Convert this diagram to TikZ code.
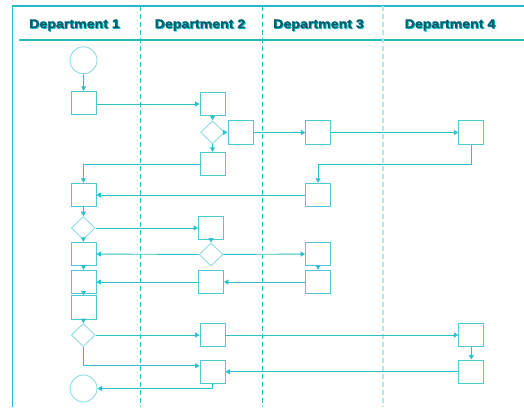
\documentclass[tikz,border=0pt]{standalone}
\usepackage{fontspec}
\usepackage{graphicx}
\setmainfont{Liberation Sans}
\newfontfamily\headfont[FakeBold=1.2]{Liberation Sans Bold}
\usetikzlibrary{arrows.meta,shapes.geometric}
\definecolor{frame}{HTML}{1FBCC8}
\definecolor{linec}{HTML}{2EC0CC}
\definecolor{boxc}{HTML}{4FCAD4}
\definecolor{lightc}{HTML}{8FDCE3}
\definecolor{dimc}{HTML}{B5E7EC}
\definecolor{headtxt}{HTML}{05606E}
\definecolor{headsh}{HTML}{10C0CE}
\tikzset{
  box/.style={draw=boxc, line width=0.9bp, minimum width=25bp, minimum height=23.5bp, inner sep=0pt},
  dec/.style={diamond, draw=lightc, line width=0.9bp, minimum width=24bp, minimum height=23bp, inner sep=0pt},
  term/.style={circle, draw=lightc, line width=0.9bp, minimum size=27bp, inner sep=0pt},
  flow/.style={draw=linec, line width=0.9bp, -{Triangle[length=4.5bp,width=5bp]}},
  lane/.style={draw=linec, line width=0.9bp, dash pattern=on 5bp off 3bp},
  lanelight/.style={draw=dimc, line width=1.6bp, dash pattern=on 5bp off 3bp},
  headsh/.style={text=headsh, font=\headfont\fontsize{12.6}{14}\selectfont},
  head/.style={text=headtxt, font=\headfont\fontsize{12.6}{14}\selectfont},
}
\newcommand{\depthead}[3]{%
  \node[headsh] (#1s) at ([xshift=0.9bp,yshift=-0.9bp]#2) {\scalebox{1.13}[1]{#3}};
  \node[head] (#1) at (#2) {\scalebox{1.13}[1]{#3}};}
\begin{document}
\begin{tikzpicture}[x=1bp,y=-1bp]
\useasboundingbox (0,0) rectangle (524,407);
\fill[white] (0,0) rectangle (524,407);

% frame and header rule
\draw[frame, line width=1.2bp] (12.5,407) -- (12.5,6) -- (524,6);
\draw[frame, line width=1.1bp] (19,40) -- (524,40);

% lane dividers
\draw[lane] (140,6) -- (140,407);
\draw[lane] (262,6) -- (262,407);
\draw[lanelight] (383,6) -- (383,407);

% lane headings
\coordinate (h1) at (74.5,25);
\coordinate (h2) at (200,25);
\coordinate (h3) at (318.5,25);
\coordinate (h4) at (450,25);
\depthead{t1}{h1}{Department 1}
\depthead{t2}{h2}{Department 2}
\depthead{t3}{h3}{Department 3}
\depthead{t4}{h4}{Department 4}

% process steps
\node[term] (start) at (83.5,60.3) {};
\node[box] (A1) at (83.7,103) {};
\node[box] (B1) at (212.5,104) {};
\node[dec] (D1) at (212.5,132.3) {};
\node[box] (C1) at (240.5,132.5) {};
\node[box] (C2) at (318.3,132.5) {};
\node[box] (C3) at (471.3,132.5) {};
\node[box] (B2) at (212.5,164) {};
\node[box] (A2) at (83.5,195) {};
\node[box] (C4) at (318,195) {};
\node[dec] (D2) at (83.3,228) {};
\node[box] (B3) at (211,228) {};
\node[box] (A3) at (83.5,254) {};
\node[dec] (D3) at (211,254.5) {};
\node[box] (C5) at (318,254) {};
\node[box] (A4) at (83.5,282) {};
\node[box] (B4) at (211,282) {};
\node[box] (C6) at (318,282) {};
\node[box] (A5) at (83.5,307.5) {};
\node[dec] (D4) at (83.3,335) {};
\node[box] (B5) at (212.5,335) {};
\node[box] (E1) at (471.3,335) {};
\node[box] (E2) at (471.3,371.7) {};
\node[box] (B6) at (212.5,371.7) {};
\node[term] (end) at (83.5,388.5) {};

% connectors
\draw[flow] (start) -- (A1);
\draw[flow] (A1.east |- B1.west) -- (B1.west);
\draw[flow] (B1) -- (D1);
\draw[flow] (D1) -- (C1);
\draw[flow] (D1) -- (B2);
\draw[flow] (C1) -- (C2);
\draw[flow] (C2) -- (C3);
\draw[flow] (B2.west) -| (A2.north);
\draw[flow] (C3.south) -- (C3.south |- B2.west) -| (C4.north);
\draw[flow] (C4) -- (A2);
\draw[flow] (A2) -- (D2);
\draw[flow] (D2) -- (B3);
\draw[flow] (D2) -- (A3);
\draw[flow] (B3) -- (D3);
\draw[flow] (D3) -- (A3);
\draw[flow] (D3) -- (C5);
\draw[flow] (C5) -- (C6);
\draw[flow] (C6) -- (B4);
\draw[flow] (B4) -- (A4);
\draw[flow] (A3) -- (A4);
\draw[flow] (A4) -- (A5);
\draw[flow] (A5) -- (D4);
\draw[flow] (D4) -- (B5);
\draw[flow] (B5) -- (E1);
\draw[flow] (E1) -- (E2);
\draw[flow] (E2) -- (B6);
\draw[flow] (D4.south) |- ([yshift=6bp]B6.west);
\draw[flow] (B6.south) |- (end.east);
\end{tikzpicture}
\end{document}
